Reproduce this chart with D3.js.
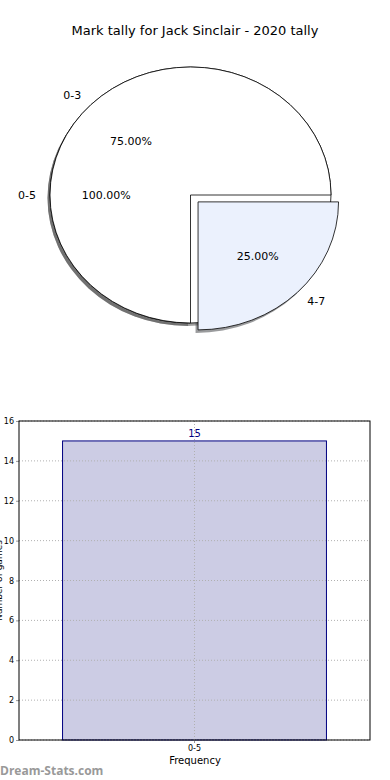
<!DOCTYPE html>
<html>
<head>
<meta charset="utf-8">
<script src="https://cdn.jsdelivr.net/npm/d3@7"></script>
<style>
  body { margin: 0; background: #fff; }
  svg { font-family: "DejaVu Sans", sans-serif; }
</style>
</head>
<body>
<svg id="chart" width="390" height="780"></svg>
<script>
// pie data
var outerLabels = ['0-5'];
var outerValues = [100];
var innerLabels = ['0-3', '4-7'];
var innerValues = [75, 25];
var innerColors = ['#ffffff', '#ebf1fd'];
var explode = [0, 0.076];

// bar data
var barCategories = ['0-5'];
var barValues = [15];
var yTicks = [0, 2, 4, 6, 8, 10, 12, 14, 16];

var svg = d3.select('#chart');

svg.append('text')
  .attr('x', 195).attr('y', 35)
  .attr('text-anchor', 'middle')
  .style('font-size', '13px')
  .text('Mark tally for Jack Sinclair - 2020 tally');

// ellipse-shaped pie: unit arcs scaled
var cx = 190.5, cy = 195, rx = 140.5, ry = 128;

var pie = d3.pie().sort(null)
  .startAngle(Math.PI / 2)
  .endAngle(Math.PI / 2 - 2 * Math.PI);

var arc = d3.arc().innerRadius(0).outerRadius(1);

function layoutPie(values, expl) {
  var arcs = pie(values);
  arcs.forEach(function(a, i) {
    var mid = (a.startAngle + a.endAngle) / 2;
    a.ux = Math.sin(mid);
    a.uy = -Math.cos(mid);
    a.ox = cx + expl[i] * rx * a.ux;
    a.oy = cy + expl[i] * ry * a.uy;
  });
  return arcs;
}

var outerArcs = layoutPie(outerValues, [0]);
var innerArcs = layoutPie(innerValues, explode);

function slice(a, fill, stroke, dx, dy, opacity) {
  svg.append('path')
    .attr('d', arc(a))
    .attr('transform', 'translate(' + (a.ox + dx) + ',' + (a.oy + dy) + ') scale(' + rx + ',' + ry + ')')
    .attr('fill', fill)
    .attr('fill-opacity', opacity)
    .attr('stroke', stroke)
    .attr('stroke-width', 0.8)
    .attr('vector-effect', 'non-scaling-stroke');
}

// shadows first, then slices
outerArcs.forEach(function(a) { slice(a, '#4d4d4d', 'none', -2.5, 3, 0.55); });
innerArcs.forEach(function(a, i) {
  var c = d3.rgb(innerColors[i]);
  slice(a, d3.rgb(c.r * 0.3, c.g * 0.3, c.b * 0.3).toString(), 'none', -2.5, 3, 0.55);
});
outerArcs.forEach(function(a) { slice(a, '#ffffff', '#000', 0, 0, 1); });
innerArcs.forEach(function(a, i) { slice(a, innerColors[i], '#000', 0, 0, 1); });

function pieLabels(arcs, labels) {
  arcs.forEach(function(a, i) {
    var lx = a.ox + 1.1 * rx * a.ux, ly = a.oy + 1.1 * ry * a.uy;
    svg.append('text')
      .attr('x', lx).attr('y', ly).attr('dy', '0.35em')
      .attr('text-anchor', a.ux < -0.01 ? 'end' : (a.ux > 0.01 ? 'start' : 'middle'))
      .style('font-size', '11px')
      .text(labels[i]);
    var px = a.ox + 0.6 * rx * a.ux, py = a.oy + 0.6 * ry * a.uy;
    var pct = (a.endAngle - a.startAngle) / (-2 * Math.PI) * 100;
    svg.append('text')
      .attr('x', px).attr('y', py).attr('dy', '0.35em')
      .attr('text-anchor', 'middle')
      .style('font-size', '11px')
      .text(pct.toFixed(2) + '%');
  });
}
pieLabels(outerArcs, outerLabels);
pieLabels(innerArcs, innerLabels);

// bar chart
var plotLeft = 19, plotRight = 370, plotTop = 421, plotBottom = 740;

var x = d3.scaleBand().domain(barCategories)
  .range([plotLeft, plotRight]).paddingInner(0).paddingOuter(0.165);
var y = d3.scaleLinear().domain([0, 16]).range([plotBottom, plotTop]);

svg.selectAll('rect.bar')
  .data(barValues)
  .enter().append('rect')
  .attr('class', 'bar')
  .attr('x', function(d, i) { return x(barCategories[i]); })
  .attr('y', function(d) { return y(d); })
  .attr('width', x.bandwidth())
  .attr('height', function(d) { return plotBottom - y(d); })
  .attr('fill', '#ccccE4')
  .attr('stroke', '#000080')
  .attr('stroke-width', 1);

var grid = svg.append('g');
yTicks.forEach(function(t) {
  grid.append('line')
    .attr('x1', plotLeft).attr('x2', plotRight)
    .attr('y1', y(t)).attr('y2', y(t))
    .attr('stroke', '#b0b0b0').attr('stroke-dasharray', '1,2');
});
barCategories.forEach(function(c) {
  var xc = x(c) + x.bandwidth() / 2;
  grid.append('line')
    .attr('x1', xc).attr('x2', xc)
    .attr('y1', plotTop).attr('y2', plotBottom)
    .attr('stroke', '#b0b0b0').attr('stroke-dasharray', '1,2');
});

svg.selectAll('text.val')
  .data(barValues)
  .enter().append('text')
  .attr('class', 'val')
  .attr('x', function(d, i) { return x(barCategories[i]) + x.bandwidth() / 2; })
  .attr('y', function(d) { return y(d) - 4; })
  .attr('text-anchor', 'middle')
  .attr('fill', '#000080')
  .style('font-size', '10px')
  .text(function(d) { return d; });

var yAxis = svg.append('g')
  .attr('transform', 'translate(' + plotLeft + ',0)')
  .call(d3.axisLeft(y).tickValues(yTicks).tickSize(3).tickPadding(2));
yAxis.select('.domain').remove();
yAxis.selectAll('line').attr('stroke', '#999');
yAxis.selectAll('text').style('font-size', '8px').style('font-family', 'DejaVu Sans');

var xAxis = svg.append('g')
  .attr('transform', 'translate(0,' + plotBottom + ')')
  .call(d3.axisBottom(x).tickSize(3).tickPadding(2));
xAxis.select('.domain').remove();
xAxis.selectAll('line').attr('stroke', '#999');
xAxis.selectAll('text').style('font-size', '8px').style('font-family', 'DejaVu Sans');

svg.append('rect')
  .attr('x', plotLeft).attr('y', plotTop)
  .attr('width', plotRight - plotLeft).attr('height', plotBottom - plotTop)
  .attr('fill', 'none').attr('stroke', '#000').attr('stroke-width', 1);

svg.append('text')
  .attr('x', 195).attr('y', 764)
  .attr('text-anchor', 'middle')
  .style('font-size', '10px')
  .text('Frequency');

// y label sits mostly off the left edge, as in the reference
svg.append('text')
  .attr('transform', 'translate(1.5,' + ((plotTop + plotBottom) / 2) + ') rotate(-90)')
  .attr('text-anchor', 'middle')
  .style('font-size', '9px')
  .text('Number of games');

svg.append('text')
  .attr('x', 0).attr('y', 775)
  .attr('fill', '#999')
  .style('font-size', '12px')
  .style('font-weight', 'bold')
  .style('font-family', '"Open Sans", sans-serif')
  .text('Dream-Stats.com');
</script>
</body>
</html>
